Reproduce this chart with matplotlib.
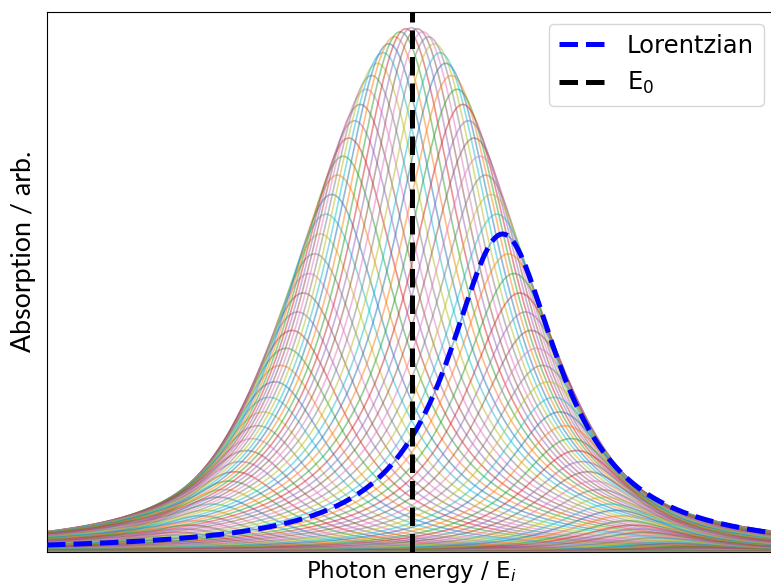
import numpy as np
import matplotlib
matplotlib.use('Agg')
import matplotlib.pyplot as plt

# line shape parameters (energy in units of the inhomogeneous width)
E0 = 0.0
sigma = 1.0          # spread of site energies (gaussian)
gamma = 0.75         # homogeneous half width (lorentzian)
E_lor = 1.0          # the single site that is highlighted
x_range = (-4.0, 4.0)
n_sites = 129

def lorentz(x, c, g):
    return 1.0 / (1.0 + ((x - c) / g) ** 2)

def gauss(c, mu, s):
    return np.exp(-(c - mu) ** 2 / (2 * s ** 2))

x = np.linspace(x_range[0], x_range[1], 1200)
centres = np.linspace(x_range[0], x_range[1], n_sites)
weights = gauss(centres, E0, sigma)

fig = plt.figure(figsize=(7.71, 5.88), dpi=100)
ax = fig.add_axes([47 / 771, 36 / 588, 729 / 771, 540 / 588])

# one lorentzian per site, weighted by how many sites sit at that energy
for c, w in zip(centres, weights):
    ax.plot(x, w * lorentz(x, c, gamma), lw=1.2, alpha=0.5)

ax.plot(x, gauss(E_lor, E0, sigma) * lorentz(x, E_lor, gamma), 'b--', lw=3.6,
        label='Lorentzian', zorder=5)
ax.axvline(E0, color='k', ls='--', lw=3.6, label=r'E$_0$', zorder=6)

ax.set_xlim(*x_range)
ax.set_ylim(0, 1.03)
ax.set_xticks([])
ax.set_yticks([])
ax.spines['bottom'].set_zorder(10)

ax.set_xlabel(r'Photon energy / E$_i$', fontsize=16.5)
ax.set_ylabel('Absorption / arb.', fontsize=19.3, family='Lato')
ax.yaxis.set_label_coords(-0.015, 0.557)
ax.legend(loc='upper right', fontsize=17.5)

fig.savefig('out.png', dpi=100)
